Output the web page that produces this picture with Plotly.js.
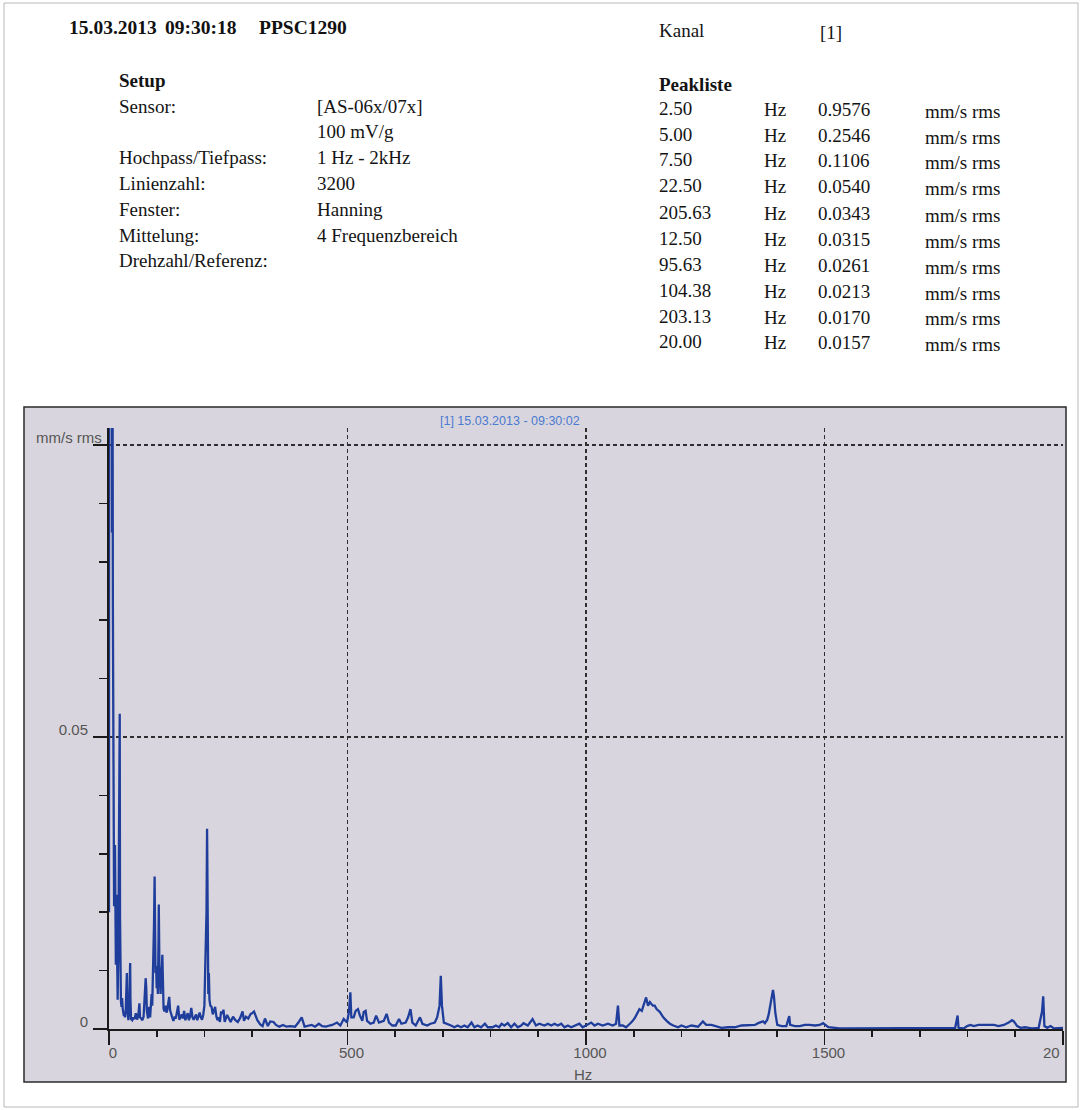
<!DOCTYPE html>
<html><head><meta charset="utf-8">
<script src="https://cdn.plot.ly/plotly-3.0.1.min.js"></script>
<style>html,body{margin:0;padding:0;background:#fff}#chart{width:1081px;height:1110px}</style>
</head><body><div id="chart"></div>
<script>
// ---- spectrum data (Hz, mm/s rms) ----
const spectrumHz = [
  0, 0.625, 1.25, 1.875, 2.5, 3.125, 3.75, 4.375, 5.0, 5.625,
  6.25, 6.875, 7.5, 8.125, 8.75, 9.375, 10, 10.625, 11.25, 11.875,
  12.5, 13.125, 13.75, 14.375, 15, 15.625, 16.25, 16.875, 17.5, 18.125,
  18.75, 19.375, 20, 20.625, 21.25, 21.875, 22.5, 23.125, 23.75, 24.375,
  25, 26.25, 27.5, 28.75, 30, 31.25, 32.5, 33.75, 35, 36.25,
  37.5, 38.125, 39.375, 40.625, 41.875, 43.125, 44.375, 45, 46.25, 48.75,
  51.25, 53.75, 56.25, 58.75, 61.25, 63.75, 65, 67.5, 70, 72.5,
  75, 76.875, 78.125, 79.375, 81.875, 84.375, 86.25, 88.125, 89.375, 90.625,
  91.875, 93.125, 94.375, 95.625, 96.25, 97.5, 98.75, 100, 101.25, 102.5,
  103.75, 104.375, 105.625, 106.875, 108.125, 109.375, 110.625, 111.875, 113.125, 114.375,
  116.25, 118.75, 120.625, 122.5, 124.375, 126.25, 128.125, 130, 132.5, 135,
  137.5, 140, 142.5, 145, 147.5, 150, 152.5, 155, 157.5, 160,
  162.5, 165, 167.5, 170, 172.5, 175, 177.5, 180, 182.5, 185,
  187.5, 190, 192.5, 195, 197.5, 200, 201.875, 203.125, 204.375, 205.625,
  206.875, 208.125, 209.375, 210.625, 212.5, 215, 217.5, 220, 222.5, 225,
  227.5, 230, 232.5, 235, 237.5, 240, 242.5, 245, 247.5, 250,
  255, 260, 265, 270, 275, 280, 283, 287, 292, 297,
  300, 304, 307, 311, 317, 322, 327, 333, 338, 345,
  350, 357, 365, 372, 380, 390, 397, 404, 410, 418,
  425, 432, 440, 447, 455, 462, 468, 478, 485, 492,
  499, 503, 506, 508, 513, 517, 522, 526, 531, 534,
  538, 541, 548, 555, 560, 566, 576, 582, 587, 594,
  601, 608, 613, 622, 627, 632, 636, 643, 652, 657,
  667, 674, 683, 688, 693, 695.6, 698, 702, 710, 717,
  724, 731, 738, 745, 752, 760, 766, 773, 780, 788,
  794, 804, 811, 818, 823, 829, 836, 843, 850, 857,
  864, 869, 878, 885, 888, 895, 902, 913, 920, 927,
  934, 941, 948, 955, 962, 969, 979, 986, 993, 1000,
  1011, 1018, 1025, 1035, 1046, 1056, 1063, 1067, 1070, 1077,
  1084, 1092, 1098, 1103, 1109, 1112, 1117, 1122, 1126, 1130,
  1134, 1137, 1140, 1144, 1148, 1155, 1162, 1169, 1176, 1183,
  1193, 1200, 1210, 1221, 1235, 1245, 1252, 1263, 1273, 1284,
  1298, 1312, 1326, 1340, 1354, 1361, 1371, 1375, 1380, 1383,
  1386, 1389, 1392, 1394, 1397, 1401, 1410, 1420, 1426, 1428,
  1438, 1448, 1459, 1469, 1480, 1490, 1497, 1508, 1518, 1532,
  1550, 1571, 1585, 1603, 1613, 1634, 1655, 1669, 1683, 1711,
  1739, 1760, 1774, 1779, 1781, 1792, 1799, 1806, 1813, 1823,
  1834, 1844, 1855, 1865, 1876, 1886, 1893, 1897, 1904, 1911,
  1921, 1928, 1935, 1949, 1956, 1958.5, 1961, 1967, 1974, 1981,
  1991, 2000
];
const spectrumAmp = [
  0.02, 0.35, 0.62, 0.88, 0.9576, 0.72, 0.38, 0.21, 0.2546, 0.16,
  0.085, 0.095, 0.1106, 0.072, 0.045, 0.031, 0.026, 0.021, 0.026, 0.029,
  0.0315, 0.025, 0.017, 0.011, 0.019, 0.023, 0.012, 0.008, 0.006, 0.005,
  0.009, 0.012, 0.0157, 0.029, 0.043, 0.049, 0.054, 0.019, 0.008, 0.005,
  0.0048, 0.0038, 0.0053, 0.0035, 0.0028, 0.0022, 0.0026, 0.002, 0.003, 0.0062,
  0.0096, 0.004, 0.0018, 0.0015, 0.003, 0.0072, 0.0113, 0.005, 0.0017, 0.0015,
  0.002, 0.0017, 0.0027, 0.0016, 0.0022, 0.0044, 0.002, 0.0018, 0.0015, 0.0021,
  0.005, 0.0087, 0.007, 0.003, 0.0018, 0.0038, 0.002, 0.0045, 0.006, 0.004,
  0.0075, 0.011, 0.018, 0.0261, 0.014, 0.0096, 0.0108, 0.007, 0.0092, 0.006,
  0.015, 0.0213, 0.011, 0.0075, 0.006, 0.009, 0.01, 0.0127, 0.006, 0.0035,
  0.003, 0.004, 0.0028, 0.0033, 0.0045, 0.0055, 0.0032, 0.0025, 0.002, 0.0014,
  0.0021, 0.0018, 0.0028, 0.004, 0.0016, 0.002, 0.0025, 0.0018, 0.0031, 0.0015,
  0.0023, 0.0027, 0.0015, 0.0022, 0.0036, 0.002, 0.0016, 0.0022, 0.0025, 0.0015,
  0.002, 0.0028, 0.002, 0.0016, 0.0024, 0.004, 0.011, 0.017, 0.02, 0.0343,
  0.012, 0.006, 0.0096, 0.005, 0.004, 0.0038, 0.0025, 0.0032, 0.0038, 0.0022,
  0.0015, 0.002, 0.0012, 0.003, 0.0026, 0.0033, 0.0012, 0.0018, 0.0024, 0.002,
  0.0012, 0.0021, 0.0015, 0.0012, 0.0019, 0.003, 0.0014, 0.0021, 0.0018, 0.0026,
  0.0027, 0.003, 0.0024, 0.0015, 0.0008, 0.0005, 0.0018, 0.0005, 0.0013, 0.0012,
  0.0007, 0.0004, 0.0007, 0.0004, 0.0005, 0.0004, 0.0011, 0.002, 0.0004, 0.0005,
  0.0007, 0.0004, 0.0009, 0.0005, 0.0004, 0.0006, 0.0007, 0.0011, 0.0006, 0.0017,
  0.0011, 0.0029, 0.0063, 0.002, 0.002, 0.0031, 0.0034, 0.0023, 0.0014, 0.0029,
  0.0031, 0.0014, 0.0009, 0.0011, 0.0023, 0.0011, 0.0014, 0.0026, 0.0011, 0.0006,
  0.0006, 0.0017, 0.0009, 0.0011, 0.002, 0.0034, 0.0011, 0.0006, 0.002, 0.0009,
  0.0006, 0.0009, 0.0011, 0.002, 0.004, 0.0091, 0.004, 0.0011, 0.0009, 0.0006,
  0.0003, 0.0006, 0.0003, 0.0006, 0.0003, 0.0011, 0.0003, 0.0006, 0.0003, 0.0009,
  0.0003, 0.0003, 0.0006, 0.0003, 0.0009, 0.0006, 0.001, 0.0003, 0.0009, 0.0003,
  0.0006, 0.001, 0.0006, 0.0014, 0.0017, 0.0006, 0.0009, 0.0006, 0.0009, 0.0006,
  0.0009, 0.0006, 0.0009, 0.0003, 0.0006, 0.0003, 0.0006, 0.0009, 0.0003, 0.0006,
  0.0011, 0.0006, 0.0009, 0.0006, 0.0009, 0.0006, 0.0009, 0.004, 0.0006, 0.0006,
  0.0003, 0.0009, 0.0014, 0.002, 0.0029, 0.0034, 0.0031, 0.0046, 0.0054, 0.004,
  0.0046, 0.0043, 0.004, 0.004, 0.0034, 0.0029, 0.002, 0.0014, 0.0009, 0.0006,
  0.0003, 0.0006, 0.0003, 0.0006, 0.0004, 0.0013, 0.0007, 0.0007, 0.0005, 0.0002,
  0.0003, 0.0003, 0.0006, 0.0007, 0.0007, 0.001, 0.0013, 0.001, 0.0016, 0.0025,
  0.0039, 0.005, 0.0067, 0.0056, 0.0027, 0.0007, 0.0005, 0.0005, 0.0022, 0.0007,
  0.0005, 0.0005, 0.0007, 0.0007, 0.0006, 0.0007, 0.001, 0.0003, 0.0002, 0.0001,
  0.0001, 0.0001, 0.0001, 0.0002, 0.0001, 0.0001, 0.0001, 0.0002, 0.0001, 0.0001,
  0.0001, 0.0002, 0.0002, 0.0023, 0.0002, 0.0001, 0.0005, 0.0007, 0.0005, 0.0007,
  0.0007, 0.0006, 0.0007, 0.0005, 0.0007, 0.0011, 0.0015, 0.0013, 0.0005, 0.0002,
  0.0003, 0.0002, 0.0001, 0.0002, 0.003, 0.0056, 0.0005, 0.0002, 0.0005, 0.0001,
  0.0001, 0.0002
];

// ---- axes / labels ----
const xTickVals = [0, 500, 1000, 1500, 2000];
const xTickText = ['0', '500', '1000', '1500', ''];
const xEndLabel = '20';           // the last label, clipped to "20" in the reference
const xGridVals = [500, 1000, 1500];
const yTickVals = [0, 0.05, 0.1];
const yTickText = ['0', '0.05', ''];
const yUnit = 'mm/s rms';
const xUnit = 'Hz';
const chartTitle = '[1] 15.03.2013 - 09:30:02';

// ---- report header ----
const headerDate = '15.03.2013';
const headerTime = '09:30:18';
const headerId = 'PPSC1290';
const setupTitle = 'Setup';
const setupLabels = ['Sensor:', '', 'Hochpass/Tiefpass:', 'Linienzahl:', 'Fenster:', 'Mittelung:', 'Drehzahl/Referenz:'];
const setupValues = ['[AS-06x/07x]', '100 mV/g', '1 Hz - 2kHz', '3200', 'Hanning', '4 Frequenzbereich', ''];
const channelLabel = 'Kanal';
const channelValue = '[1]';
const peakTitle = 'Peakliste';
const peakHz = ['2.50', '5.00', '7.50', '22.50', '205.63', '12.50', '95.63', '104.38', '203.13', '20.00'];
const peakAmp = ['0.9576', '0.2546', '0.1106', '0.0540', '0.0343', '0.0315', '0.0261', '0.0213', '0.0170', '0.0157'];
const peakFreqUnit = 'Hz';
const peakAmpUnit = 'mm/s rms';

// ---- page geometry (pixels) ----
const W = 1081, H = 1110;
const L = 109, R = 1063, T = 428, B = 1029;
const PXPERUNIT = 5840;
const px = p => (p - L) / (R - L);
const py = p => (B - p) / (B - T);

const serif = 'Liberation Serif, Times New Roman, serif';
const sans = 'Liberation Sans, Arial, sans-serif';
const tickFont = {family: sans, size: 15, color: '#555'};
const txt = (x, y, text, opt) => Object.assign({
  xref: 'paper', yref: 'paper', x: px(x), y: py(y), text: text, showarrow: false,
  xanchor: 'left', yanchor: 'middle', font: {family: serif, size: 19, color: '#141414'}
}, opt || {});

const ann = [];
ann.push(txt(67, 28, '<b>' + headerDate + '</b>', {font: {family: serif, size: 19.5, color: '#111'}}));
ann.push(txt(163, 28, '<b>' + headerTime + '</b>', {font: {family: serif, size: 19.5, color: '#111'}}));
ann.push(txt(257, 28, '<b>' + headerId + '</b>', {font: {family: serif, size: 19.5, color: '#111'}}));
ann.push(txt(117, 80, '<b>' + setupTitle + '</b>'));
setupLabels.forEach((s, i) => { if (s) ann.push(txt(117, 106 + i * 25.8, s)); });
setupValues.forEach((s, i) => { if (s) ann.push(txt(315, 106 + i * 25.8, s)); });
ann.push(txt(657, 31, channelLabel));
ann.push(txt(818, 33, channelValue));
ann.push(txt(657, 84, '<b>' + peakTitle + '</b>'));
peakHz.forEach((s, i) => {
  const y = 108 + i * 26;
  ann.push(txt(657, y, s));
  ann.push(txt(762, y + 1, peakFreqUnit));
  ann.push(txt(816, y + 1, peakAmp[i]));
  ann.push(txt(923, y + 3, peakAmpUnit));
});
ann.push(txt(438, 421, chartTitle, {font: {family: sans, size: 12.5, color: '#4a7bd0'}}));
ann.push(txt(104, 437, yUnit, {xanchor: 'right', font: tickFont}));
ann.push(txt(583, 1074, xUnit, {xanchor: 'center', font: tickFont}));
ann.push({xref: 'x', yref: 'paper', x: xTickVals[xTickVals.length - 1], y: py(1052), text: xEndLabel,
  showarrow: false, xanchor: 'right', yanchor: 'middle', xshift: -1, font: tickFont});

const shapes = [
  {type: 'rect', xref: 'paper', yref: 'paper', x0: px(4), x1: px(1078), y0: py(3), y1: py(1107),
   line: {color: '#b8b8b8', width: 1}, fillcolor: 'rgba(0,0,0,0)', layer: 'below'},
  {type: 'rect', xref: 'paper', yref: 'paper', x0: px(24), x1: px(1066), y0: py(407), y1: py(1082),
   line: {color: '#2a2a2a', width: 1.5}, fillcolor: '#d9d5de', layer: 'below'}
];

const traces = [
  {type: 'scatter', mode: 'lines', x: spectrumHz, y: spectrumAmp,
   line: {color: '#1f3e9c', width: 2.3}, hoverinfo: 'x+y', showlegend: false},
  {type: 'scatter', mode: 'lines', x: [], y: [], xaxis: 'x2', yaxis: 'y', showlegend: false, hoverinfo: 'skip'}
];

const gridStyle = {showgrid: true, gridcolor: '#2e2e2e', gridwidth: 1.5, griddash: '4px,3px'};

const layout = {
  width: W, height: H,
  margin: {l: L, r: W - R, t: T, b: H - B, pad: 0},
  paper_bgcolor: '#ffffff', plot_bgcolor: 'rgba(0,0,0,0)',
  showlegend: false,
  xaxis: {
    range: [0, 2000], tickmode: 'array', tickvals: xTickVals, ticktext: xTickText,
    showline: true, linecolor: '#1a1a1a', linewidth: 2, zeroline: false, showgrid: false,
    ticks: 'outside', ticklen: 14, tickwidth: 1.6, tickcolor: '#1a1a1a',
    tickfont: tickFont, ticklabelshift: 4, ticklabelstandoff: -5,
    minor: {tickmode: 'linear', tick0: 0, dtick: 100, ticklen: 6, tickwidth: 1.6, tickcolor: '#1a1a1a', showgrid: false}
  },
  xaxis2: Object.assign({
    overlaying: 'x', anchor: 'y', range: [0, 2000], tickmode: 'array', tickvals: xGridVals,
    showticklabels: false, ticks: '', showline: false, zeroline: false
  }, gridStyle),
  yaxis: Object.assign({
    range: [0, (B - T) / PXPERUNIT], tickmode: 'array', tickvals: yTickVals, ticktext: yTickText,
    showline: true, linecolor: '#1a1a1a', linewidth: 2, zeroline: false,
    ticks: 'outside', ticklen: 14, tickwidth: 1.6, tickcolor: '#1a1a1a',
    tickfont: tickFont, ticklabelshift: -7, ticklabelstandoff: 2,
    minor: {tickmode: 'linear', tick0: 0, dtick: 0.01, ticklen: 8, tickwidth: 1.6, tickcolor: '#1a1a1a', showgrid: false}
  }, gridStyle),
  annotations: ann,
  shapes: shapes
};

Plotly.newPlot('chart', traces, layout, {displayModeBar: false, staticPlot: true});
</script>
</body></html>
